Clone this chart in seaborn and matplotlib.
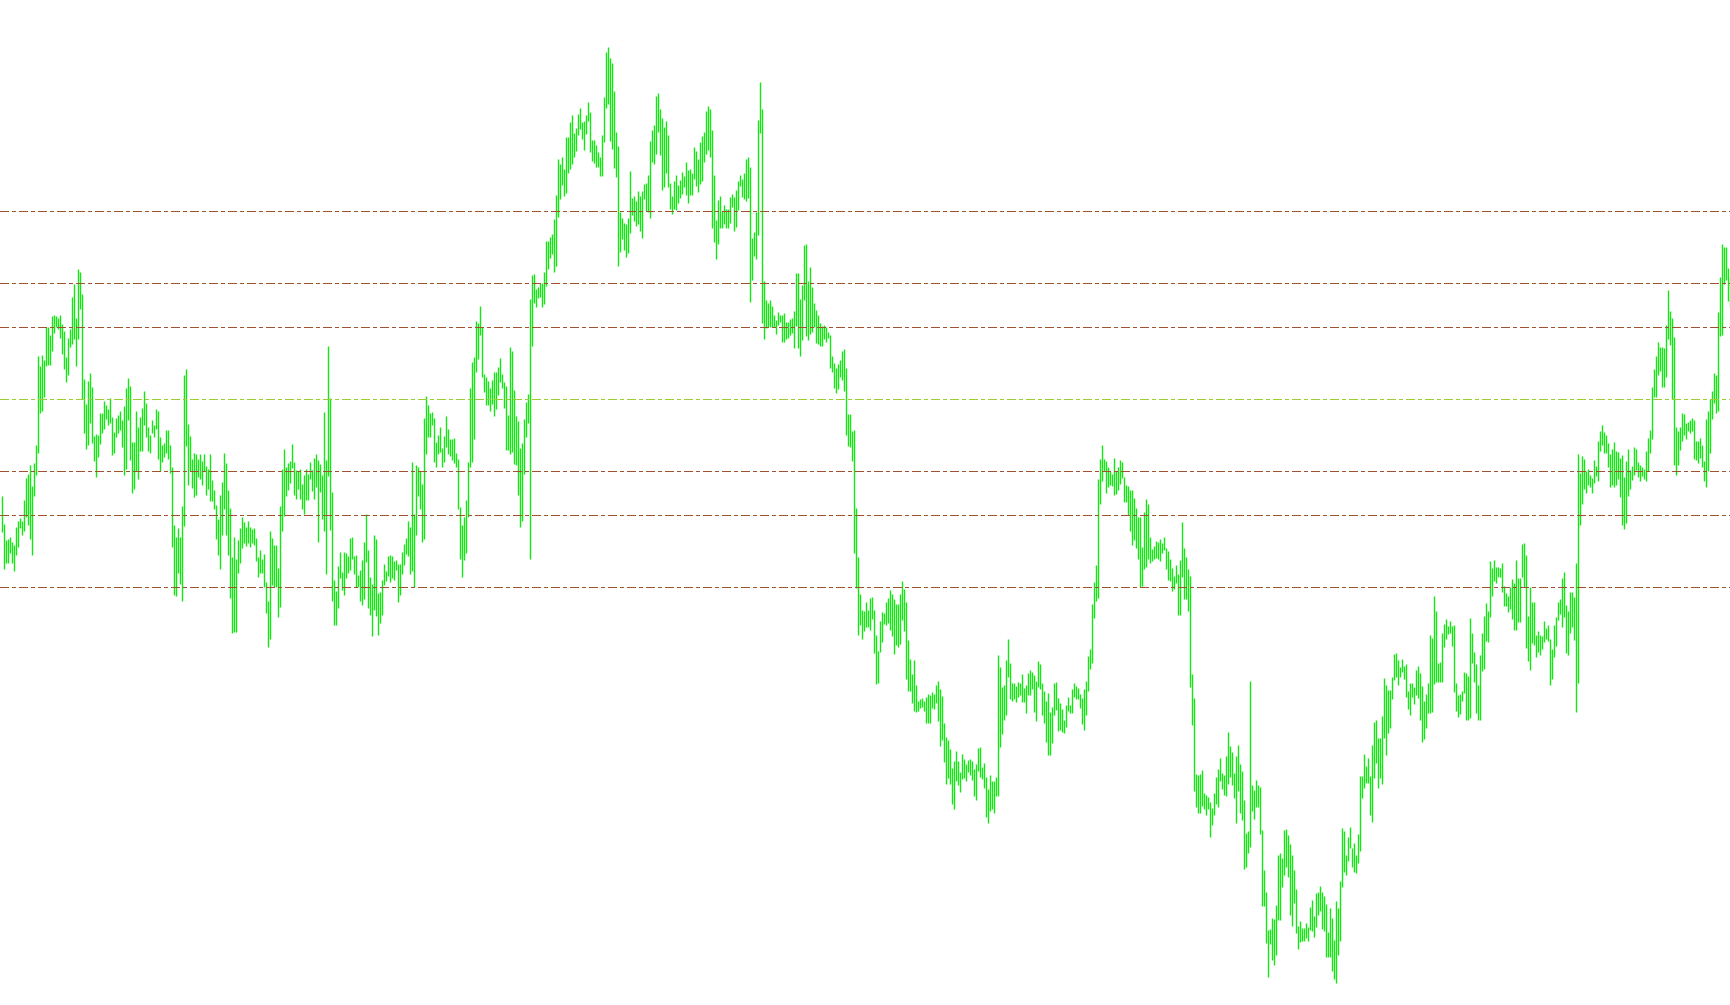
import matplotlib
matplotlib.use("Agg")
import matplotlib.pyplot as plt
import seaborn as sns
import pandas as pd

# ---------------------------------------
# bar data (price in points, 1 pt = 0.0001)
# ---------------------------------------
bar_high = [
    10903, 10875, 10859, 10860, 10862, 10857, 10854, 10872, 10878, 10881,
    10878, 10899, 10921, 10925, 10934, 10913, 10936, 10954, 11043, 11033,
    11044, 11039, 11072, 11072, 11064, 11083, 11084, 11083, 11081, 11084,
    11075, 11068, 11042, 11061, 11070, 11102, 11115, 11081, 11130, 11127,
    11105, 11020, 10995, 11018, 11026, 11012, 10963, 10965, 10964, 10986,
    10986, 10998, 10994, 10990, 11001, 10982, 10967, 10981, 10984, 10988,
    10979, 10993, 11011, 11021, 11013, 10957, 10957, 10988, 10972, 10982,
    10991, 11008, 10996, 10972, 10964, 10979, 10974, 10990, 10988, 10962,
    10954, 10956, 10969, 10969, 10954, 10932, 10874, 10862, 10871, 10862,
    10893, 11024, 11030, 10975, 10963, 10940, 10946, 10945, 10940, 10945,
    10938, 10945, 10933, 10930, 10945, 10919, 10909, 10894, 10880, 10904,
    10917, 10946, 10936, 10909, 10891, 10842, 10862, 10840, 10859, 10871,
    10882, 10877, 10872, 10878, 10872, 10870, 10871, 10861, 10842, 10849,
    10840, 10845, 10817, 10798, 10868, 10861, 10854, 10854, 10831, 10893,
    10930, 10950, 10932, 10936, 10938,
    10955, 10937, 10929, 10928, 10930, 10915, 10924, 10930, 10925, 10937,
    10929, 10941, 10945, 10939, 10935, 10924, 10987, 10939, 11053, 11001,
    10907, 10819, 10808, 10833, 10847, 10827, 10847, 10846, 10843, 10861,
    10862, 10843, 10844, 10824, 10829, 10839, 10857, 10885, 10849, 10822,
    10815, 10864, 10860, 10806, 10807, 10819, 10835, 10828, 10843, 10844,
    10843, 10838, 10839, 10835, 10835, 10847, 10855, 10861, 10878, 10872,
    10937, 10885, 10934, 10932, 10928, 10915, 10981, 11003, 10994, 10986,
    10987, 10981, 10957, 10964, 10972, 10951, 10963, 10983, 10970, 10960,
    10960, 10961, 10946, 10940, 10892, 10874, 10882, 10899, 10937, 11011,
    11037, 11042, 11078, 11076, 11093, 11072, 11025, 11022, 11018, 11011,
    11019, 11027, 11027, 11032, 11041, 11025, 11017, 11013, 10984, 11052,
    11048, 11009, 10983, 10978, 10951, 10956, 10980, 10997, 11005, 11100,
    11124, 11125, 11110, 11112, 11116, 11116, 11127, 11158, 11158, 11162,
    11165, 11180, 11204, 11240, 11235, 11242, 11230, 11262, 11262, 11277,
    11284, 11266, 11271, 11285, 11291,
    11277, 11278, 11284, 11297, 11287, 11259, 11259, 11254, 11247, 11242,
    11264, 11302, 11347, 11352, 11341, 11336, 11308, 11267, 11253, 11187,
    11181, 11176, 11175, 11181, 11228, 11201, 11203, 11198, 11208, 11203,
    11208, 11215, 11216, 11224, 11258, 11269, 11274, 11303, 11306, 11290,
    11281, 11272, 11278, 11264, 11216, 11203, 11218, 11224, 11214, 11219,
    11227, 11223, 11237, 11229, 11230, 11226, 11252, 11248, 11240, 11257,
    11263, 11267, 11288, 11293, 11290, 11269, 11224, 11179, 11199, 11203,
    11188, 11194, 11190, 11190, 11202, 11205, 11202, 11209, 11218, 11224,
    11220, 11226, 11240, 11242, 11232, 11161, 11167, 11187, 11279, 11317,
    11290, 11118, 11099, 11096, 11099, 11093, 11084, 11079, 11087, 11084,
    11084, 11086, 11077, 11077, 11080, 11081, 11088, 11126, 11126, 11100,
    11114, 11154, 11155, 11118, 11132, 11112, 11096, 11089, 11084, 11076,
    11073, 11074, 11072, 11067, 11064, 11043, 11036, 11031, 11035, 11039,
    11048, 11050, 11031, 10985, 10985, 10968, 10969, 10891, 10842, 10805,
    10789, 10788, 10797, 10789, 10801,
    10802, 10789, 10764, 10748, 10778, 10787, 10786, 10797, 10801, 10809,
    10805, 10800, 10795, 10795, 10805, 10818, 10810, 10797, 10759, 10740,
    10725, 10739, 10714, 10698, 10700, 10701, 10698, 10702, 10705, 10704,
    10707, 10705, 10714, 10718, 10710, 10703, 10676, 10662, 10659, 10650,
    10631, 10638, 10648, 10638, 10627, 10645, 10640, 10635, 10639, 10640,
    10638, 10630, 10635, 10651, 10652, 10632, 10636, 10622, 10610, 10624,
    10618, 10618, 10622, 10744, 10732, 10712, 10714, 10739, 10760, 10736,
    10716, 10716, 10713, 10717, 10716, 10725, 10711, 10714, 10726, 10729,
    10727, 10724, 10718, 10738, 10735, 10716, 10708, 10698, 10706, 10687,
    10692, 10716, 10717, 10701, 10696, 10690, 10679, 10694, 10702, 10694,
    10710, 10716, 10713, 10711, 10705, 10701, 10710, 10718, 10743, 10750,
    10795, 10817, 10834, 10920, 10940, 10954, 10940, 10938, 10932, 10928,
    10925, 10941, 10928, 10932, 10939, 10937, 10922, 10914, 10913, 10909,
    10909, 10901, 10891, 10882, 10882, 10852, 10887, 10900, 10895, 10862,
    10850, 10853, 10858, 10857, 10860,
    10856, 10862, 10851, 10848, 10840, 10831, 10823, 10834, 10825, 10839,
    10877, 10851, 10842, 10830, 10823, 10725, 10701, 10625, 10624, 10625,
    10629, 10606, 10604, 10602, 10597, 10591, 10606, 10622, 10630, 10641,
    10626, 10624, 10643, 10667, 10653, 10647, 10626, 10643, 10654, 10635,
    10628, 10599, 10566, 10568, 10718, 10614, 10609, 10619, 10614, 10612,
    10569, 10529, 10507, 10469, 10470, 10481, 10480, 10494, 10544, 10546,
    10541, 10569, 10570, 10564, 10555, 10544, 10529, 10510, 10473, 10478,
    10471, 10471, 10476, 10472, 10492, 10499, 10483, 10506, 10507, 10513,
    10507, 10503, 10495, 10467, 10491, 10481, 10459, 10498, 10491, 10518,
    10571, 10568, 10544, 10562, 10572, 10551, 10556, 10544, 10565, 10623,
    10623, 10645, 10633, 10641, 10623, 10654, 10677, 10679, 10661, 10661,
    10683, 10721, 10714, 10709, 10709, 10722, 10745, 10746, 10739, 10732,
    10740, 10733, 10735, 10708, 10716, 10716, 10712, 10729, 10733, 10726,
    10713, 10698, 10705, 10716, 10764, 10761, 10803, 10788, 10736, 10737,
    10766, 10775, 10780, 10773, 10778,
    10773, 10774, 10716, 10704, 10705, 10708, 10727, 10726, 10723, 10781,
    10766, 10747, 10735, 10714, 10744, 10766, 10783, 10796, 10788, 10838,
    10831, 10839, 10832, 10832, 10831, 10836, 10813, 10806, 10803, 10812,
    10820, 10816, 10839, 10821, 10821, 10855, 10856, 10844, 10783, 10812,
    10797, 10797, 10764, 10768, 10764, 10763, 10778, 10771, 10774, 10760,
    10750, 10774, 10782, 10797, 10800, 10821, 10827, 10794, 10788, 10807,
    10807, 10802, 10836, 10945, 10926, 10943, 10940, 10928, 10930, 10924,
    10921, 10939, 10933, 10958, 10968, 10974, 10967, 10964, 10956, 10945,
    10950, 10957, 10948, 10947, 10941, 10944, 10922, 10938, 10950, 10929,
    10933, 10952, 10950, 10937, 10934, 10932, 10930, 10948, 10961, 10969,
    11012, 11030, 11043, 11057, 11052, 11052, 11051, 11074, 11109, 11088,
    11081, 11062, 10972, 10968, 10972, 10986, 10985, 10976, 10977, 10979,
    10981, 10979, 10958, 10958, 10961, 10954, 10938, 10980, 10988, 11000,
    11008, 11026, 11024, 11087, 11122, 11155, 11152, 11152, 11131, 11122,
]

bar_low = [
    10867, 10830, 10836, 10836, 10846, 10836, 10828, 10844, 10852, 10871,
    10864, 10868, 10882, 10874, 10860, 10844, 10903, 10924, 10946, 10986,
    10988, 11002, 11033, 11034, 11034, 11048, 11066, 11072, 11070, 11061,
    11045, 11030, 11017, 11024, 11052, 11055, 11060, 11033, 11060, 11090,
    11000, 10966, 10950, 10954, 10976, 10956, 10938, 10922, 10942, 10955,
    10966, 10970, 10980, 10974, 10976, 10944, 10946, 10962, 10966, 10969,
    10952, 10924, 10930, 10979, 10939, 10906, 10910, 10928, 10920, 10948,
    10948, 10974, 10962, 10948, 10946, 10966, 10962, 10970, 10940, 10928,
    10937, 10942, 10946, 10940, 10926, 10852, 10804, 10803, 10826, 10815,
    10798, 10873, 10953, 10914, 10928, 10911, 10902, 10904, 10922, 10920,
    10914, 10928, 10904, 10910, 10898, 10898, 10890, 10860, 10844, 10830,
    10864, 10890, 10864, 10844, 10801, 10766, 10767, 10767, 10826, 10836,
    10851, 10856, 10853, 10856, 10852, 10856, 10854, 10838, 10822, 10826,
    10826, 10812, 10786, 10752, 10760, 10814, 10812, 10812, 10782, 10792,
    10868, 10883, 10903, 10909, 10916,
    10931, 10904, 10900, 10910, 10900, 10890, 10885, 10899, 10899, 10920,
    10908, 10900, 10912, 10857, 10907, 10880, 10868, 10825, 10923, 10869,
    10798, 10774, 10774, 10791, 10821, 10809, 10804, 10821, 10826, 10829,
    10840, 10825, 10812, 10812, 10798, 10794, 10800, 10837, 10791, 10784,
    10763, 10789, 10783, 10764, 10776, 10784, 10814, 10818, 10823, 10817,
    10821, 10819, 10829, 10797, 10804, 10825, 10834, 10845, 10843, 10825,
    10828, 10812, 10864, 10903, 10890, 10857, 10860, 10945, 10962, 10962,
    10974, 10937, 10932, 10945, 10947, 10932, 10937, 10952, 10945, 10943,
    10939, 10936, 10932, 10890, 10840, 10822, 10839, 10846, 10882, 10932,
    10937, 10960, 11027, 11040, 11064, 11022, 11007, 10994, 10994, 10988,
    10995, 10983, 10990, 11004, 11017, 11011, 10991, 10949, 10949, 10945,
    10947, 10935, 10934, 10904, 10872, 10878, 10925, 10962, 10976, 10840,
    11053, 11096, 11092, 11101, 11102, 11092, 11095, 11113, 11130, 11141,
    11145, 11127, 11133, 11182, 11200, 11214, 11203, 11206, 11226, 11230,
    11235, 11242, 11248, 11264, 11270,
    11260, 11249, 11265, 11278, 11247, 11238, 11236, 11232, 11232, 11223,
    11223, 11257, 11291, 11295, 11258, 11250, 11231, 11222, 11133, 11147,
    11160, 11149, 11142, 11146, 11166, 11184, 11178, 11173, 11175, 11168,
    11161, 11200, 11188, 11187, 11181, 11237, 11235, 11245, 11267, 11244,
    11209, 11212, 11226, 11212, 11190, 11185, 11190, 11189, 11196, 11201,
    11205, 11212, 11204, 11196, 11204, 11204, 11220, 11213, 11207, 11215,
    11218, 11237, 11245, 11249, 11242, 11171, 11157, 11140, 11155, 11171,
    11171, 11175, 11171, 11171, 11176, 11192, 11168, 11172, 11189, 11213,
    11202, 11200, 11198, 11201, 11097, 11119, 11143, 11140, 11164, 11266,
    11076, 11060, 11071, 11072, 11072, 11072, 11072, 11065, 11074, 11077,
    11057, 11057, 11060, 11061, 11064, 11066, 11051, 11073, 11051, 11043,
    11059, 11099, 11063, 11059, 11065, 11067, 11072, 11056, 11055, 11053,
    11053, 11060, 11057, 11061, 11031, 11027, 11011, 11006, 11010, 11022,
    11019, 11008, 10964, 10953, 10952, 10938, 10846, 10811, 10764, 10774,
    10760, 10768, 10772, 10772, 10769,
    10780, 10746, 10715, 10716, 10747, 10757, 10775, 10774, 10776, 10769,
    10763, 10745, 10754, 10752, 10755, 10779, 10768, 10720, 10708, 10708,
    10696, 10688, 10687, 10688, 10691, 10692, 10688, 10676, 10676, 10676,
    10691, 10690, 10696, 10678, 10653, 10659, 10637, 10615, 10621, 10615,
    10595, 10590, 10618, 10614, 10607, 10620, 10621, 10618, 10627, 10624,
    10619, 10603, 10599, 10628, 10622, 10620, 10611, 10582, 10576, 10588,
    10590, 10586, 10603, 10603, 10652, 10665, 10679, 10684, 10722, 10700,
    10698, 10700, 10697, 10702, 10704, 10697, 10697, 10686, 10704, 10704,
    10710, 10687, 10678, 10712, 10710, 10684, 10676, 10657, 10644, 10644,
    10656, 10684, 10689, 10668, 10669, 10667, 10666, 10672, 10688, 10686,
    10686, 10702, 10700, 10700, 10691, 10675, 10669, 10684, 10708, 10730,
    10736, 10781, 10798, 10801, 10895, 10918, 10928, 10906, 10912, 10914,
    10913, 10904, 10905, 10909, 10915, 10921, 10897, 10897, 10884, 10868,
    10854, 10859, 10851, 10840, 10812, 10813, 10830, 10832, 10840, 10836,
    10838, 10840, 10841, 10840, 10838,
    10846, 10849, 10830, 10819, 10818, 10808, 10810, 10816, 10784, 10784,
    10822, 10800, 10800, 10788, 10712, 10674, 10608, 10592, 10586, 10586,
    10593, 10590, 10584, 10590, 10562, 10574, 10584, 10595, 10592, 10618,
    10610, 10604, 10603, 10615, 10622, 10614, 10601, 10576, 10608, 10586,
    10579, 10530, 10532, 10546, 10552, 10588, 10580, 10592, 10592, 10565,
    10493, 10493, 10456, 10422, 10455, 10439, 10434, 10444, 10479, 10479,
    10512, 10524, 10532, 10522, 10484, 10473, 10496, 10466, 10450, 10457,
    10458, 10458, 10461, 10458, 10469, 10468, 10462, 10472, 10484, 10488,
    10470, 10468, 10442, 10442, 10442, 10428, 10420, 10416, 10444, 10458,
    10512, 10527, 10524, 10538, 10551, 10532, 10527, 10526, 10536, 10548,
    10601, 10611, 10616, 10616, 10584, 10577, 10621, 10636, 10611, 10621,
    10615, 10661, 10644, 10666, 10671, 10700, 10719, 10722, 10714, 10722,
    10727, 10720, 10702, 10690, 10684, 10702, 10695, 10704, 10701, 10679,
    10657, 10660, 10671, 10686, 10686, 10687, 10715, 10717, 10717, 10717,
    10717, 10752, 10760, 10765, 10766,
    10753, 10707, 10688, 10682, 10685, 10698, 10706, 10679, 10679, 10681,
    10736, 10717, 10686, 10679, 10679, 10728, 10730, 10758, 10757, 10782,
    10803, 10818, 10816, 10822, 10822, 10807, 10793, 10793, 10787, 10790,
    10780, 10769, 10769, 10777, 10777, 10822, 10812, 10751, 10738, 10729,
    10756, 10754, 10742, 10747, 10744, 10750, 10757, 10760, 10758, 10714,
    10720, 10742, 10753, 10779, 10785, 10772, 10782, 10746, 10744, 10766,
    10772, 10759, 10687, 10716, 10874, 10895, 10910, 10906, 10914, 10912,
    10906, 10916, 10923, 10918, 10948, 10954, 10946, 10946, 10932, 10912,
    10914, 10912, 10914, 10920, 10902, 10874, 10870, 10876, 10903, 10910,
    10919, 10924, 10929, 10922, 10918, 10923, 10920, 10918, 10928, 10946,
    10960, 11002, 11002, 11024, 11028, 11012, 11012, 11022, 11060, 11054,
    11000, 10934, 10924, 10934, 10949, 10958, 10964, 10960, 10968, 10966,
    10968, 10940, 10939, 10936, 10941, 10932, 10918, 10912, 10928, 10946,
    10980, 10996, 10986, 10988, 11063, 11064, 11115, 11119, 11098, 11092,
]

# fibonacci pivot levels: R3, R2, R1, P, S1, S2, S3
level_names = ["R3", "R2", "R1", "P", "S1", "S2", "S3"]
level_values = [11188, 11116, 11072, 11000, 10928, 10884, 10812]

BAR_COLOR = "#14e614"
PIVOT_COLOR = "#9acd32"    # yellowgreen
LEVEL_COLOR = "#a0522d"    # sienna
DASH = (0, (9, 3, 3, 3))

# ---------------------------------------
# long form table: one low + one high row per bar
# ---------------------------------------
n = len(bar_high)
df = pd.DataFrame({
    "bar": list(range(n)) * 2,
    "price": bar_low + bar_high,
})

sns.set_theme(style="white")

fig = plt.figure(figsize=(17.3, 10.05), dpi=100)
ax = fig.add_axes([0, 0, 1, 1])

sns.lineplot(
    data=df, x="bar", y="price", units="bar", estimator=None,
    color=BAR_COLOR, linewidth=1.0, solid_capstyle="butt",
    sort=False, legend=False, ax=ax,
)

for name, val in zip(level_names, level_values):
    c = PIVOT_COLOR if name == "P" else LEVEL_COLOR
    ax.axhline(val, color=c, linewidth=0.72, linestyle=DASH,
               antialiased=False, zorder=3)

ax.set_xlim(-0.75, n - 0.75)
ax.set_ylim(10393.5, 11398.5)
ax.set_axis_off()

fig.savefig("out.png", dpi=100, facecolor="white")
plt.close(fig)
print("saved out.png")
